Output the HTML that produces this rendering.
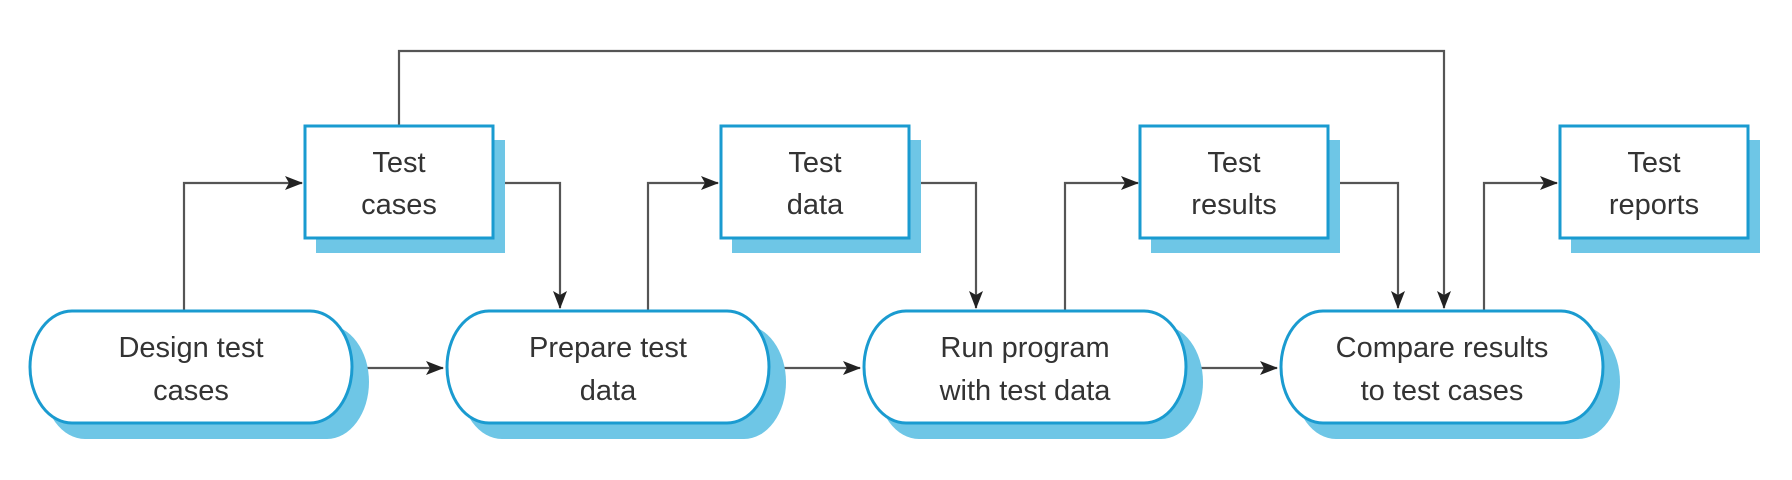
<!DOCTYPE html>
<html><head><meta charset="utf-8"><style>
html,body{margin:0;padding:0;background:#fff;}
svg{display:block;}
text{font-family:"Liberation Sans",sans-serif;font-size:29px;fill:#333;text-anchor:middle;}
</style></head><body>
<svg width="1792" height="480" viewBox="0 0 1792 480" xmlns="http://www.w3.org/2000/svg">
<defs>
<marker id="a" markerWidth="18" markerHeight="14" refX="17" refY="7" orient="auto" markerUnits="userSpaceOnUse" viewBox="0 0 18 14">
<path d="M0,0 L18,7 L0,14 L4,7 z" fill="#222"/>
</marker>
</defs>
<g stroke="#555" stroke-width="2.2" fill="none">
<path d="M399,125 V51 H1444 V308" marker-end="url(#a)"/>
<path d="M184,310 V183 H302" marker-end="url(#a)"/>
<path d="M493,183 H560 V308" marker-end="url(#a)"/>
<path d="M648,310 V183 H718" marker-end="url(#a)"/>
<path d="M909,183 H976 V308" marker-end="url(#a)"/>
<path d="M1065,310 V183 H1138" marker-end="url(#a)"/>
<path d="M1328,183 H1398 V308" marker-end="url(#a)"/>
<path d="M1484,310 V183 H1557" marker-end="url(#a)"/>
<path d="M356,368 H443" marker-end="url(#a)"/>
<path d="M773,368 H860" marker-end="url(#a)"/>
<path d="M1190,368 H1277" marker-end="url(#a)"/>
</g>
<g>
<rect x="316" y="140" width="189" height="113" fill="#6ec6e6"/>
<rect x="305" y="126" width="188" height="112" fill="#fff" stroke="#1a9bd0" stroke-width="3"/>
<rect x="732" y="140" width="189" height="113" fill="#6ec6e6"/>
<rect x="721" y="126" width="188" height="112" fill="#fff" stroke="#1a9bd0" stroke-width="3"/>
<rect x="1151" y="140" width="189" height="113" fill="#6ec6e6"/>
<rect x="1140" y="126" width="188" height="112" fill="#fff" stroke="#1a9bd0" stroke-width="3"/>
<rect x="1571" y="140" width="189" height="113" fill="#6ec6e6"/>
<rect x="1560" y="126" width="188" height="112" fill="#fff" stroke="#1a9bd0" stroke-width="3"/>
</g>
<g>
<path d="M85,325 H327 A42,57 0 0 1 327,439 H85 A42,57 0 0 1 85,325 z" fill="#6ec6e6"/>
<path d="M72,311 H310 A42,56 0 0 1 310,423 H72 A42,56 0 0 1 72,311 z" fill="#fff" stroke="#1a9bd0" stroke-width="3"/>
<path d="M502,325 H744 A42,57 0 0 1 744,439 H502 A42,57 0 0 1 502,325 z" fill="#6ec6e6"/>
<path d="M489,311 H727 A42,56 0 0 1 727,423 H489 A42,56 0 0 1 489,311 z" fill="#fff" stroke="#1a9bd0" stroke-width="3"/>
<path d="M919,325 H1161 A42,57 0 0 1 1161,439 H919 A42,57 0 0 1 919,325 z" fill="#6ec6e6"/>
<path d="M906,311 H1144 A42,56 0 0 1 1144,423 H906 A42,56 0 0 1 906,311 z" fill="#fff" stroke="#1a9bd0" stroke-width="3"/>
<path d="M1336,325 H1578 A42,57 0 0 1 1578,439 H1336 A42,57 0 0 1 1336,325 z" fill="#6ec6e6"/>
<path d="M1323,311 H1561 A42,56 0 0 1 1561,423 H1323 A42,56 0 0 1 1323,311 z" fill="#fff" stroke="#1a9bd0" stroke-width="3"/>
</g>
<g>
<text x="399" y="172">Test</text><text x="399" y="214">cases</text>
<text x="815" y="172">Test</text><text x="815" y="214">data</text>
<text x="1234" y="172">Test</text><text x="1234" y="214">results</text>
<text x="1654" y="172">Test</text><text x="1654" y="214">reports</text>
<text x="191" y="357">Design test</text><text x="191" y="400">cases</text>
<text x="608" y="357">Prepare test</text><text x="608" y="400">data</text>
<text x="1025" y="357">Run program</text><text x="1025" y="400">with test data</text>
<text x="1442" y="357">Compare results</text><text x="1442" y="400">to test cases</text>
</g>
</svg>
</body></html>
